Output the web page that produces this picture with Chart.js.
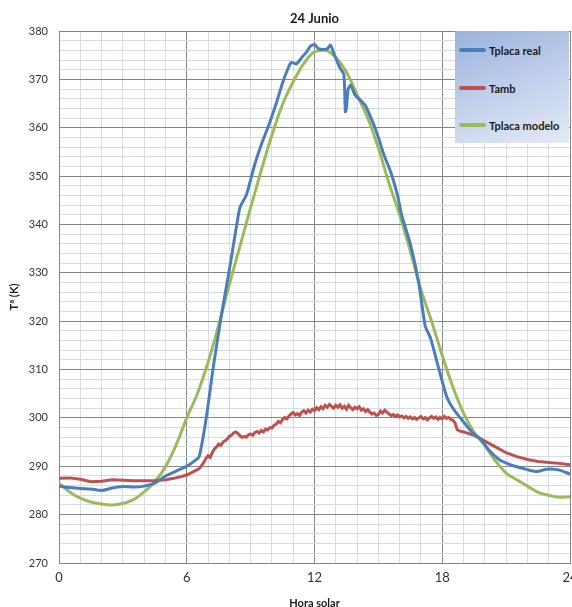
<!DOCTYPE html>
<html>
<head>
<meta charset="utf-8">
<script src="https://cdn.jsdelivr.net/npm/chart.js@4.4.1/dist/chart.umd.min.js"></script>
<style>
	html, body { margin: 0; padding: 0; background: #ffffff; }
	#wrap { position: relative; width: 572px; height: 607px; }
	#legend {
		position: absolute; left: 455px; top: 31px; width: 114px; height: 112px;
		background: linear-gradient(160deg, #9bb3de 0%, #c4d2ec 55%, #e4eaf5 100%);
		font-family: Lato, "Open Sans", sans-serif; font-weight: 700; font-size: 11px; color: #1a1a1a;
	}
	.item { position: absolute; left: 4px; height: 14px; display: flex; align-items: center; }
	.swatch { width: 27px; height: 4px; border-radius: 2px; margin-right: 3px; }
</style>
</head>
<body>
<div id="wrap">
	<canvas id="chart" width="572" height="607"></canvas>
	<div id="legend"></div>
</div>
<script>
const chartPlace = document.getElementById("chart");
const legendPlace = document.getElementById("legend");

const titleText = "24 Junio";
const xTitle = "Hora solar";
const yTitle = "Tª (K)";
const seriesNames = ["Tplaca real", "Tamb", "Tplaca modelo"];
const seriesColors = ["#4a7ebb", "#c0504d", "#9bbb59"];

// Tplaca real
const realHours = [0, 0.5, 1, 1.5, 2, 2.5, 3, 3.5, 4, 4.5, 5, 5.5, 6, 6.5, 6.6, 6.9, 7.25, 7.6, 8.0, 8.35,
	8.5, 8.8, 9.2, 9.5, 9.85, 10.2, 10.55, 10.9, 11.15, 11.4, 11.65, 11.8, 12.0, 12.2, 12.4, 12.6, 12.75, 12.9,
	13.2, 13.38, 13.45, 13.5, 13.58, 13.7, 13.9, 14.15, 14.4, 14.75, 15.0, 15.25, 15.6, 15.9, 16.1, 16.5, 16.9,
	17.2, 17.45, 17.8, 18.2, 18.5, 18.85, 19.45, 19.8, 20.2, 20.7, 21.1, 21.5, 22.0, 22.45, 22.9, 23.5, 24];
const realTemp = [285.9, 285.6, 285.4, 285.3, 285.0, 285.5, 285.8, 285.7, 285.9, 286.5, 288.0, 289.0, 290.0, 291.6, 292.2, 299.5, 310.6, 320.5, 330.6, 340.0,
	343.5, 346.1, 352.5, 356.5, 360.5, 365.0, 369.9, 373.5, 373.2, 374.5, 375.8, 376.8, 377.2, 376.3, 376.2, 376.3, 377.1, 375.5,
	372.3, 371.0, 363.3, 364.0, 368.0, 368.8, 366.8, 365.7, 364.5, 361.0, 358.0, 354.5, 350.6, 346.0, 341.8, 336.0, 327.8,
	319.0, 316.5, 310.8, 304.5, 302.0, 300.0, 296.8, 295.6, 293.3, 291.3, 290.5, 289.9, 289.3, 288.9, 289.4, 289.2, 288.4];

// Tamb
const ambHours = [0, 0.5, 1, 1.5, 2, 2.5, 3, 3.5, 4, 4.5, 5, 5.5, 6,
	6.5, 6.6, 6.7, 6.8, 6.9, 7.0, 7.1, 7.2, 7.3, 7.4, 7.5, 7.6, 7.7, 7.8, 7.9, 8.0, 8.1, 8.2, 8.3, 8.4, 8.5, 8.6, 8.7, 8.8, 8.9,
	9.0, 9.1, 9.2, 9.3, 9.4, 9.5, 9.6, 9.7, 9.8, 9.9, 10.0, 10.1, 10.2, 10.3, 10.4, 10.5, 10.6, 10.7, 10.8, 10.9,
	11.0, 11.1, 11.2, 11.3, 11.4, 11.5, 11.6, 11.7, 11.8, 11.9, 12.0, 12.1, 12.2, 12.3, 12.4, 12.5, 12.6, 12.7, 12.8, 12.9,
	13.0, 13.1, 13.2, 13.3, 13.4, 13.5, 13.6, 13.7, 13.8, 13.9, 14.0, 14.1, 14.2, 14.3, 14.4, 14.5, 14.6, 14.7, 14.8, 14.9,
	15.0, 15.1, 15.2, 15.3, 15.4, 15.5, 15.6, 15.7, 15.8, 15.9, 16.0, 16.1, 16.2, 16.3, 16.4, 16.5, 16.6, 16.7, 16.8, 16.9,
	17.0, 17.1, 17.2, 17.3, 17.4, 17.5, 17.6, 17.7, 17.8, 17.9, 18.0, 18.1, 18.2, 18.3, 18.4, 18.5, 18.6, 18.7, 18.8,
	19.0, 19.5, 20.0, 20.5, 21.0, 21.5, 22.0, 22.5, 23.0, 23.5, 24];
const ambTemp = [287.5, 287.6, 287.3, 286.8, 286.9, 287.2, 287.1, 287.0, 287.0, 287.0, 287.2, 287.6, 288.2,
	289.3, 289.6, 290.2, 290.8, 291.6, 292.2, 291.8, 292.8, 293.6, 294.0, 294.6, 294.3, 295.0, 295.3, 295.6, 296.2, 296.4, 296.9, 297.1, 296.8, 296.3, 296.0, 296.2, 296.0, 296.5,
	296.7, 296.4, 297.0, 297.2, 296.9, 297.4, 297.1, 297.7, 297.5, 298.0, 297.9, 298.5, 298.7, 299.3, 299.0, 299.7, 300.1, 299.8, 300.4, 300.8,
	301.1, 300.6, 300.9, 300.5, 301.2, 301.5, 301.0, 301.6, 301.2, 301.8, 301.5, 302.1, 301.7, 302.3, 301.9, 302.6, 302.2, 302.8, 302.4, 302.0,
	302.6, 302.2, 302.7, 302.0, 302.4, 301.8, 302.6, 302.1, 301.7, 302.2, 301.9, 302.3, 301.6, 301.9, 301.3, 301.7, 301.2, 300.8, 301.0, 300.5,
	300.7, 301.4, 301.0, 301.6, 301.2, 300.8, 300.5, 300.7, 300.3, 300.6, 300.2, 300.4, 300.0, 300.3, 299.9, 300.2, 299.8, 300.1, 299.7, 300.0,
	300.3, 299.8, 300.1, 299.6, 300.0, 300.3, 299.9, 300.2, 299.7, 300.1, 299.8, 300.3, 299.9, 300.1, 299.7, 299.5, 299.0, 297.6, 297.3,
	297.1, 296.4, 295.2, 294.0, 292.8, 292.0, 291.4, 291.0, 290.8, 290.6, 290.3];

// Tplaca modelo
const modelHours = [0, 0.5, 1, 1.5, 2, 2.5, 3, 3.5, 4, 4.5, 5, 5.5, 6, 6.5, 7, 7.5, 8, 8.5, 9, 9.5, 10, 10.5, 11, 11.5,
	12, 12.5, 13, 13.5, 14, 14.5, 15, 15.5, 16, 16.5, 17, 17.5, 18, 18.5, 19, 19.5, 20, 20.5, 21, 21.5, 22, 22.5, 23, 23.5, 24];
const modelTemp = [286.5, 284.7, 283.4, 282.6, 282.2, 282.0, 282.3, 283.1, 284.7, 286.8, 289.9, 294.4, 300.0, 305.0, 311.5, 319.2, 327.6, 335.5, 343.5, 351.2, 358.5, 364.8, 369.5, 373.3,
	375.7, 376.0, 374.5, 371.5, 366.8, 362.0, 355.8, 348.5, 342.0, 334.5, 326.5, 320.0, 312.9, 306.4, 301.0, 297.0, 294.3, 291.1, 288.6, 287.2, 285.9, 284.6, 284.0, 283.6, 283.7];

const xMin = 0, xMax = 24, xStep = 1, xLabelEvery = 6;
const yMin = 270, yMax = 380, yStep = 2, yLabelEvery = 10;

function toPoints(xs, ys) {
	let pts = [];
	for (let i = 0; i < xs.length; i++) pts.push({ x: xs[i], y: ys[i] });
	return pts;
}

const majorGrid = "#858585";
const minorGrid = "#d6dbea";
const fontName = "Lato, 'Open Sans', sans-serif";

const theChart = new Chart(chartPlace, {
	type: "line",
	data: {
		datasets: [
			{ label: seriesNames[0], data: toPoints(realHours, realTemp), borderColor: seriesColors[0], borderWidth: 3, tension: 0.2 },
			{ label: seriesNames[1], data: toPoints(ambHours, ambTemp), borderColor: seriesColors[1], borderWidth: 3, tension: 0 },
			{ label: seriesNames[2], data: toPoints(modelHours, modelTemp), borderColor: seriesColors[2], borderWidth: 3, cubicInterpolationMode: "monotone" },
		],
	},
	options: {
		responsive: false,
		animation: false,
		layout: { padding: { left: 0, right: 2, top: 0, bottom: 0 } },
		elements: { point: { radius: 0 } },
		scales: {
			x: {
				type: "linear",
				min: xMin,
				max: xMax,
				afterFit: function (s) { s.height = 44; s.paddingLeft = 0; s.paddingRight = 0; },
				grid: {
					drawTicks: false,
					color: (c) => (c.tick && c.tick.value % xLabelEvery === 0 ? majorGrid : minorGrid),
				},
				border: { color: majorGrid },
				ticks: {
					stepSize: xStep,
					autoSkip: false,
					maxRotation: 0,
					padding: 7,
					color: "#333333",
					font: { family: fontName, size: 13 },
					callback: (v) => (v % xLabelEvery === 0 ? v : ""),
				},
				title: {
					display: true,
					text: xTitle,
					color: "#1a1a1a",
					padding: { top: 0, bottom: -3 },
					font: { family: fontName, size: 11, weight: "bold" },
				},
			},
			y: {
				min: yMin,
				max: yMax,
				afterFit: function (s) { s.width = 59; },
				grid: {
					drawTicks: false,
					color: (c) => (c.tick && c.tick.value % yLabelEvery === 0 ? majorGrid : minorGrid),
				},
				border: { color: majorGrid },
				ticks: {
					stepSize: yStep,
					autoSkip: false,
					padding: 11,
					color: "#333333",
					font: { family: fontName, size: 11 },
					callback: (v) => (v % yLabelEvery === 0 ? v : ""),
				},
				title: {
					display: true,
					text: yTitle,
					color: "#1a1a1a",
					padding: { top: 8, bottom: 0 },
					font: { family: fontName, size: 11, weight: "bold" },
				},
			},
		},
		plugins: {
			legend: { display: false },
			tooltip: { enabled: false },
			title: {
				display: true,
				text: titleText,
				fullSize: false,
				color: "#1a1a1a",
				padding: { top: 11, bottom: 4.4 },
				font: { family: fontName, size: 13, weight: "bold", lineHeight: 1.2 },
			},
		},
	},
});

// legend drawn as html over the chart
const legendRows = [19, 57, 94];
for (let i = 0; i < seriesNames.length; i++) {
	const row = document.createElement("div");
	row.className = "item";
	row.style.top = legendRows[i] - 7 + "px";
	const sw = document.createElement("span");
	sw.className = "swatch";
	sw.style.background = seriesColors[i];
	const tx = document.createElement("span");
	tx.innerText = seriesNames[i];
	row.appendChild(sw);
	row.appendChild(tx);
	legendPlace.appendChild(row);
}
</script>
</body>
</html>
